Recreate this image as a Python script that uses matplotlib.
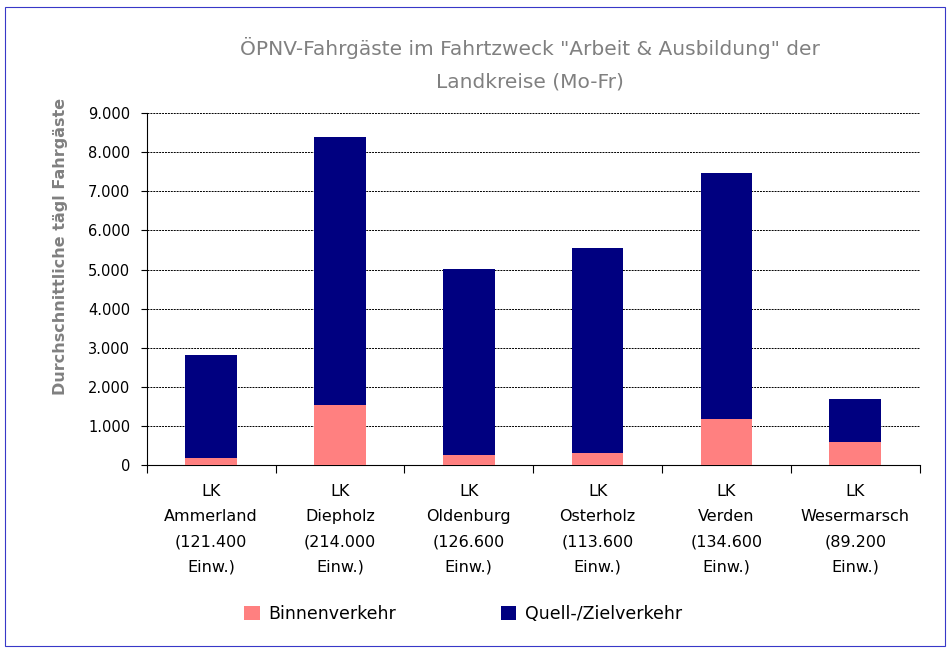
import matplotlib.pyplot as plt
import numpy as np
from matplotlib.patches import Rectangle
from matplotlib.ticker import FuncFormatter

# Daten
kreise = ['LK\nAmmerland\n(121.400\nEinw.)', 'LK\nDiepholz\n(214.000\nEinw.)',
          'LK\nOldenburg\n(126.600\nEinw.)', 'LK\nOsterholz\n(113.600\nEinw.)',
          'LK\nVerden\n(134.600\nEinw.)', 'LK\nWesermarsch\n(89.200\nEinw.)']
binnen = [170, 1540, 260, 290, 1170, 590]
quell_ziel = [2640, 6850, 4760, 5270, 6300, 1100]

col_binnen = '#FF8080'
col_quell = '#000080'
grau = '#808080'

fig = plt.figure(figsize=(9.53, 6.51), dpi=100)
# Rahmen
fig.patches.append(Rectangle((0.005, 0.008), 0.987, 0.982, transform=fig.transFigure,
                             fill=False, edgecolor='#3838C8', linewidth=0.8))

ax = fig.add_axes([0.154, 0.286, 0.811, 0.540])
x = np.arange(len(kreise))
ax.bar(x, binnen, width=0.4, color=col_binnen, label='Binnenverkehr', zorder=3)
ax.bar(x, quell_ziel, width=0.4, bottom=binnen, color=col_quell, label='Quell-/Zielverkehr', zorder=3)

ax.set_xlim(-0.5, len(kreise) - 0.5)
ax.set_ylim(0, 9000)
ax.set_yticks(np.arange(0, 9001, 1000))
ax.yaxis.set_major_formatter(FuncFormatter(lambda v, p: f'{int(v):,}'.replace(',', '.')))
ax.tick_params(axis='y', labelsize=10.5, length=4, width=0.8, direction='out', pad=8)
for yv in range(1000, 9001, 1000):
    ax.axhline(yv, color='black', linewidth=0.7, linestyle=(0, (2, 1)), zorder=1)

ax.set_xticks(x)
ax.set_xticklabels(kreise, fontsize=11.5, linespacing=1.85)
ax.tick_params(axis='x', which='major', length=0, pad=14)
ax.set_xticks(np.arange(-0.5, len(kreise)), minor=True)
ax.tick_params(axis='x', which='minor', length=6, width=0.8, direction='out')

for s in ['top', 'right']:
    ax.spines[s].set_visible(False)
ax.spines['left'].set_linewidth(0.8)
ax.spines['bottom'].set_linewidth(0.8)

ax.set_ylabel('Durchschnittliche tägl Fahrgäste', fontsize=11.5,
              fontweight='bold', color=grau)
ax.yaxis.set_label_coords(-0.102, 0.62)
fig.text(0.556, 0.902, 'ÖPNV-Fahrgäste im Fahrtzweck "Arbeit & Ausbildung" der\nLandkreise (Mo-Fr)',
         ha='center', va='center', fontsize=14.5, color=grau, linespacing=1.9)

leg = fig.legend(loc='center', bbox_to_anchor=(0.486, 0.057), ncol=2, frameon=False,
                 fontsize=12.5, handlelength=0.9, handleheight=0.9, handletextpad=0.5,
                 columnspacing=6.0)

fig.savefig('out.png', dpi=100)
